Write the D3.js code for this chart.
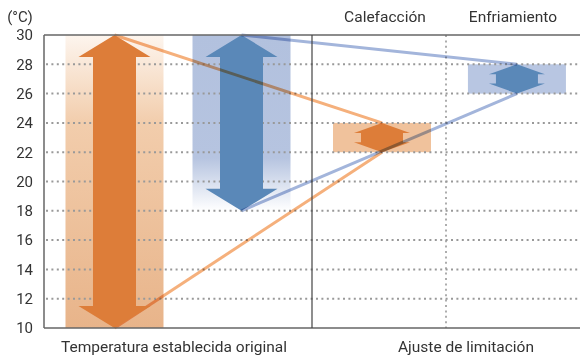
<!DOCTYPE html>
<html><head><meta charset="utf-8">
<script src="https://cdn.jsdelivr.net/npm/d3@7"></script>
<style>
body{margin:0;background:#fff;}
svg{display:block;font-family:Roboto,"Noto Sans",sans-serif;}
</style></head><body>
<svg id="c" width="580" height="356"></svg>
<script>
// ---- data ----
const groups = ["Temperatura establecida original", "Ajuste de limitación"];
const modes = ["Calefacción", "Enfriamiento"];
const yTicks = [10, 12, 14, 16, 18, 20, 22, 24, 26, 28, 30];
const originalRange = [[10, 30], [18, 30]];   // heat, cool
const limitRange = [[22, 24], [26, 28]];       // heat, cool

const svg = d3.select("#c");
const W = 580, H = 356;
const m = {l: 44, r: 0, t: 35, b: 28};
const y = d3.scaleLinear().domain([10, 30]).range([H - m.b, m.t]);
const x0 = d3.scaleBand().domain(groups).range([m.l, W]);
const x1 = [
  d3.scalePoint().domain(modes).range([0, x0.bandwidth()]).padding(0.555).align(0.5),
  d3.scalePoint().domain(modes).range([0, x0.bandwidth()]).padding(0.493).align(0.526)
];
const cx = (gi, mo) => x0(groups[gi]) + x1[gi](mo);
const bgW = 98;

const cols = {
  heat: {arrow: "#dd7d39", box: "#f0c29c", line: "#f5b07c"},
  cool: {arrow: "#5a88b8", box: "#b8c6e2", line: "#a3b5db"}
};
const keys = ["heat", "cool"];

const defs = svg.append("defs");
const gO = defs.append("linearGradient").attr("id", "gO").attr("x1", 0).attr("y1", 0).attr("x2", 0).attr("y2", 1);
[[0, "#fdf5ee"], [0.3, "#f2cdac"], [1, "#e8b48a"]].forEach(s => gO.append("stop").attr("offset", s[0]).attr("stop-color", s[1]));
const gB = defs.append("linearGradient").attr("id", "gB").attr("x1", 0).attr("y1", 0).attr("x2", 0).attr("y2", 1);
[[0, "#b2c1de"], [0.7, "#b6c4e0"], [1, "#ffffff"]].forEach(s => gB.append("stop").attr("offset", s[0]).attr("stop-color", s[1]));
const bgFill = ["url(#gO)", "url(#gB)"];

// backgrounds
originalRange.forEach((r, i) => {
  const c = cx(0, modes[i]);
  svg.append("rect").attr("x", c - bgW / 2).attr("width", bgW)
    .attr("y", y(r[1])).attr("height", y(r[0]) - y(r[1])).attr("fill", bgFill[i]);
});
limitRange.forEach((r, i) => {
  const c = cx(1, modes[i]);
  svg.append("rect").attr("x", c - bgW / 2).attr("width", bgW)
    .attr("y", y(r[1])).attr("height", y(r[0]) - y(r[1])).attr("fill", cols[keys[i]].box);
});

// grid
svg.append("g").selectAll("line").data(yTicks.slice(1, -1)).join("line")
  .attr("x1", m.l + 2).attr("x2", W).attr("y1", d => y(d)).attr("y2", d => y(d))
  .attr("stroke", "#999").attr("stroke-width", 2).attr("stroke-dasharray", "2,3.4");
const midX = x0(groups[1]) + x0.bandwidth() / 2;
svg.append("line").attr("x1", midX).attr("x2", midX).attr("y1", m.t).attr("y2", H - m.b)
  .attr("stroke", "#999").attr("stroke-width", 1.6).attr("stroke-dasharray", "2,3.4");

// arrows
function dblArrow(c, lo, hi, headHalf, shaftHalf, headH, fill) {
  const t = y(hi), b = y(lo);
  const pts = [[c, t], [c + headHalf, t + headH], [c + shaftHalf, t + headH], [c + shaftHalf, b - headH],
    [c + headHalf, b - headH], [c, b], [c - headHalf, b - headH], [c - shaftHalf, b - headH],
    [c - shaftHalf, t + headH], [c - headHalf, t + headH]];
  svg.append("path").attr("d", d3.line()(pts) + "Z").attr("fill", fill);
}
dblArrow(cx(0, modes[1]), originalRange[1][0], originalRange[1][1], 36, 21.5, 22, cols.cool.arrow);
limitRange.forEach((r, i) => dblArrow(cx(1, modes[i]), r[0], r[1], 28, 21, 10, cols[keys[i]].arrow));

// connecting lines
keys.forEach((k, i) => {
  const a = cx(0, modes[i]), b = cx(1, modes[i]);
  [1, 0].forEach(j => {
    svg.append("line").attr("x1", a).attr("y1", y(originalRange[i][j]))
      .attr("x2", b).attr("y2", y(limitRange[i][j]))
      .attr("stroke", cols[k].line).attr("stroke-width", 3)
      .style("mix-blend-mode", "multiply");
  });
});
dblArrow(cx(0, modes[0]), originalRange[0][0], originalRange[0][1], 36, 21.5, 22, cols.heat.arrow);

// frame
const ax = "#666";
svg.append("line").attr("x1", m.l).attr("x2", W).attr("y1", m.t).attr("y2", m.t).attr("stroke", ax).attr("stroke-width", 1.5);
svg.append("line").attr("x1", m.l).attr("x2", W).attr("y1", H - m.b).attr("y2", H - m.b).attr("stroke", ax).attr("stroke-width", 1.5);
svg.append("line").attr("x1", m.l).attr("x2", m.l).attr("y1", m.t).attr("y2", H - m.b).attr("stroke", ax).attr("stroke-width", 1.5);
svg.append("line").attr("x1", x0(groups[1])).attr("x2", x0(groups[1])).attr("y1", m.t).attr("y2", H - m.b).attr("stroke", "#444").attr("stroke-width", 1.2);

// y axis labels
const yAxis = d3.axisLeft(y).tickValues(yTicks).tickSize(0).tickPadding(11);
const ya = svg.append("g").attr("transform", `translate(${m.l},0)`).call(yAxis);
ya.select(".domain").remove();
ya.selectAll("text").attr("font-size", 15).attr("fill", "#333").attr("font-family", "Roboto");

svg.append("text").attr("x", 20).attr("y", 22).attr("text-anchor", "middle")
  .attr("font-size", 15).attr("fill", "#333").text("(°C)");

// top labels
modes.forEach((mo, i) => svg.append("text").attr("x", cx(1, mo) + (i ? -4 : 3)).attr("y", 22)
  .attr("text-anchor", "middle").attr("font-size", 15.5).attr("fill", "#333").text(mo));
// bottom labels
groups.forEach((g, i) => svg.append("text").attr("x", x0(g) + x0.bandwidth() / 2 + (i ? 20 : -4)).attr("y", 352)
  .attr("text-anchor", "middle").attr("font-size", 15.5).attr("fill", "#333").text(g));
</script>
</body></html>
